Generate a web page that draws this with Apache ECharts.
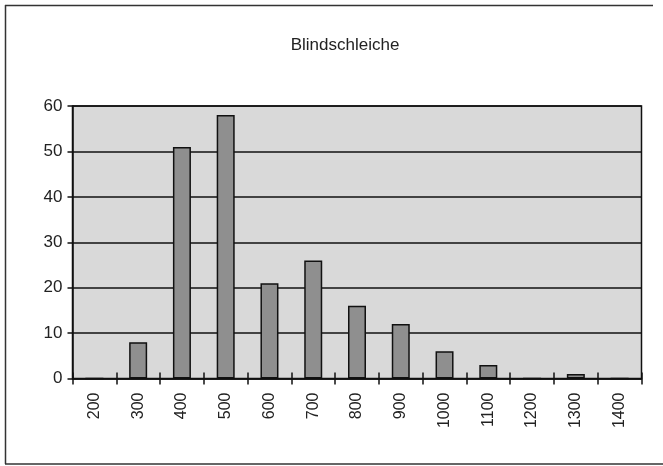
<!DOCTYPE html>
<html>
<head>
<meta charset="utf-8">
<script src="https://cdn.jsdelivr.net/npm/echarts@6/dist/echarts.min.js"></script>
<style>html,body{margin:0;padding:0;background:#fff}#c{width:663px;height:466px}</style>
</head>
<body>
<div id="c"></div>
<script>
var categories = ['200','300','400','500','600','700','800','900','1000','1100','1200','1300','1400'];
var counts = [0, 8, 51, 58, 21, 26, 16, 12, 6, 3, 0, 1, 0];
var yTicks = [0, 10, 20, 30, 40, 50, 60];

var chart = echarts.init(document.getElementById('c'));
var font = '"Liberation Sans", Arial, sans-serif';
chart.setOption({
  animation: false,
  backgroundColor: '#fff',
  title: {
    text: 'Blindschleiche', left: 340, top: 32, textAlign: 'center',
    textStyle: {fontFamily: font, fontWeight: 'normal', fontSize: 17, color: '#222'}
  },
  grid: {left: 72.5, right: 21.5, top: 106, bottom: 87.5, show: true,
         backgroundColor: '#d9d9d9', borderColor: '#111', borderWidth: 1.5},
  xAxis: [{
    type: 'category', data: categories, position: 'bottom',
    axisLine: {lineStyle: {color: '#111', width: 1.5}},
    axisTick: {show: true, length: 6, lineStyle: {color: '#111', width: 1.5}},
    axisLabel: {rotate: 90, margin: 14, fontFamily: font, fontSize: 16, color: '#222'}
  }, {
    type: 'category', data: categories, position: 'bottom', offset: 0,
    axisLine: {show: false},
    axisTick: {show: true, inside: true, length: 6, lineStyle: {color: '#111', width: 1.5}},
    axisLabel: {show: false}
  }],
  yAxis: {
    type: 'value', min: yTicks[0], max: yTicks[yTicks.length - 1], interval: 10,
    axisLine: {show: true, lineStyle: {color: '#111', width: 1.5}},
    axisTick: {show: true, length: 5, lineStyle: {color: '#111', width: 1.5}},
    axisLabel: {margin: 10, fontFamily: font, fontSize: 17, color: '#222'},
    splitLine: {show: true, lineStyle: {color: '#111', width: 1.5}}
  },
  series: [{
    type: 'bar', data: counts, barWidth: 18, xAxisIndex: 0,
    itemStyle: {color: '#8f8f8f', borderColor: '#111', borderWidth: 1.5}
  }],
  graphic: [
    {type: 'line', shape: {x1: 5, y1: 5.5, x2: 653, y2: 5.5}, style: {stroke: '#333', lineWidth: 1.5}},
    {type: 'line', shape: {x1: 5.5, y1: 5, x2: 5.5, y2: 464}, style: {stroke: '#333', lineWidth: 1.5}},
    {type: 'line', shape: {x1: 5, y1: 464, x2: 663, y2: 464}, style: {stroke: '#333', lineWidth: 1.5}}
  ]
});
</script>
</body>
</html>
